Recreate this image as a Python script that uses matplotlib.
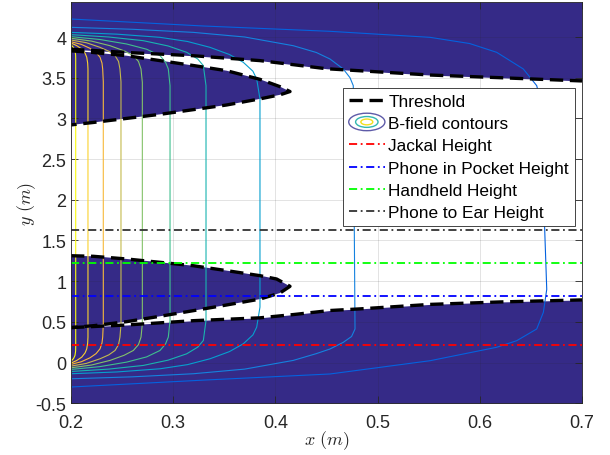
import matplotlib
matplotlib.use("Agg")
import matplotlib.pyplot as plt
from matplotlib.colors import LinearSegmentedColormap
from matplotlib.legend_handler import HandlerBase
from matplotlib.lines import Line2D
from matplotlib.patches import Ellipse

plt.rcParams["font.family"] = ["Liberation Sans", "DejaVu Sans"]
plt.rcParams["mathtext.fontset"] = "cm"

# threshold boundary: upper outer edge (field above it exceeds the limit)
thr_top_x = [0.2, 0.2545, 0.3197, 0.3849, 0.4502, 0.5513, 0.6198, 0.7]
thr_top_y = [3.85, 3.81, 3.77, 3.71, 3.61, 3.533, 3.50, 3.46]

# upper lobe, traced from the left edge round the tip and back
lobe_top_x = [0.2, 0.2218, 0.2545, 0.2871, 0.3197, 0.3523, 0.3849, 0.4045, 0.4143,
              0.4045, 0.3849, 0.3523, 0.2871, 0.2218, 0.2]
lobe_top_y = [3.83, 3.81, 3.77, 3.71, 3.65, 3.586, 3.48, 3.39, 3.33,
              3.29, 3.24, 3.165, 3.05, 2.95, 2.92]

# lower lobe
lobe_bot_x = [0.2, 0.2218, 0.2545, 0.2871, 0.3197, 0.3523, 0.3849, 0.4012, 0.4143,
              0.4045, 0.3849, 0.3523, 0.3197, 0.2871, 0.2545, 0.2218, 0.2]
lobe_bot_y = [1.313, 1.306, 1.273, 1.232, 1.19, 1.13, 1.068, 1.027, 0.937,
              0.855, 0.78, 0.708, 0.638, 0.569, 0.503, 0.453, 0.43]

# lower outer edge
thr_bot_x = [0.2, 0.2545, 0.3197, 0.3849, 0.4175, 0.4534, 0.4828, 0.5513, 0.6198, 0.7]
thr_bot_y = [0.43, 0.462, 0.515, 0.55, 0.59, 0.64, 0.66, 0.715, 0.745, 0.77]

# B-field contour lines, each running from the upper conductor round to the lower one
contour_x = [
    [0.2, 0.2025, 0.2039, 0.2045, 0.2046, 0.2046, 0.2045, 0.2039, 0.2025, 0.2],
    [0.2, 0.2055, 0.2105, 0.2138, 0.2154, 0.2163, 0.2166,
     0.2166, 0.2163, 0.2154, 0.2138, 0.2105, 0.2055, 0.2],
    [0.2, 0.21, 0.2186, 0.2245, 0.2284, 0.2303, 0.2310, 0.2316,
     0.2316, 0.2310, 0.2303, 0.2284, 0.2245, 0.2186, 0.21, 0.2],
    [0.2, 0.215, 0.2284, 0.237, 0.2431, 0.2465, 0.2479, 0.2489,
     0.2489, 0.2479, 0.2465, 0.2431, 0.237, 0.2284, 0.215, 0.2],
    [0.2, 0.22, 0.2382, 0.252, 0.2610, 0.2660, 0.2685, 0.2698,
     0.2698, 0.2685, 0.2660, 0.2610, 0.252, 0.2382, 0.22, 0.2],
    [0.2, 0.228, 0.2545, 0.274, 0.2871, 0.2925, 0.2952, 0.2969,
     0.2969, 0.2952, 0.2925, 0.2871, 0.274, 0.2545, 0.228, 0.2],
    [0.2, 0.237, 0.2707, 0.295, 0.3132, 0.3240, 0.3295, 0.3321,
     0.3321, 0.3295, 0.3240, 0.3132, 0.295, 0.2707, 0.237, 0.2],
    [0.2, 0.245, 0.2871, 0.3140, 0.3360, 0.3550, 0.3686, 0.3780, 0.3817, 0.3849,
     0.3849, 0.3817, 0.3780, 0.3686, 0.3550, 0.3360, 0.3140, 0.2871, 0.245, 0.2],
    [0.2, 0.26, 0.3197, 0.37, 0.4175, 0.4400, 0.4534, 0.4664, 0.4730, 0.4762, 0.4770,
     0.4779, 0.4745, 0.4664, 0.4534, 0.4400, 0.4175, 0.37, 0.3197, 0.26, 0.2],
    [0.2, 0.33, 0.4534, 0.5513, 0.59, 0.6165, 0.6426, 0.6557, 0.6589, 0.6625, 0.6655,
     0.6622, 0.6557, 0.6361, 0.6165, 0.5513, 0.4534, 0.33, 0.2],
]
contour_y = [
    [3.905, 3.87, 3.832, 3.78, 3.73, 0.19, 0.14, 0.088, 0.05, 0.015],
    [3.926, 3.895, 3.853, 3.80, 3.751, 3.68, 3.607,
     0.313, 0.24, 0.169, 0.12, 0.067, 0.025, -0.006],
    [3.942, 3.91, 3.861, 3.81, 3.751, 3.68, 3.607, 3.45,
     0.47, 0.313, 0.24, 0.169, 0.11, 0.059, 0.01, -0.022],
    [3.963, 3.93, 3.873, 3.825, 3.771, 3.70, 3.607, 3.45,
     0.47, 0.313, 0.22, 0.149, 0.095, 0.047, -0.01, -0.043],
    [3.984, 3.95, 3.893, 3.83, 3.771, 3.70, 3.607, 3.443,
     0.477, 0.313, 0.22, 0.149, 0.09, 0.027, -0.03, -0.064],
    [4.004, 3.97, 3.914, 3.85, 3.771, 3.69, 3.607, 3.402,
     0.518, 0.313, 0.23, 0.149, 0.07, 0.006, -0.05, -0.084],
    [4.029, 4.00, 3.955, 3.89, 3.812, 3.73, 3.648, 3.402,
     0.518, 0.272, 0.19, 0.108, 0.03, -0.035, -0.08, -0.109],
    [4.057, 4.035, 3.996, 3.945, 3.873, 3.785, 3.689, 3.58, 3.484, 3.238,
     0.682, 0.436, 0.34, 0.231, 0.135, 0.047, -0.025, -0.076, -0.115, -0.137],
    [4.119, 4.095, 4.057, 4.0, 3.893, 3.81, 3.730, 3.607, 3.50, 3.402, 2.0,
     0.413, 0.32, 0.249, 0.167, 0.11, 0.027, -0.08, -0.137, -0.175, -0.199],
    [4.221, 4.135, 4.07, 3.996, 3.92, 3.812, 3.607, 3.402, 3.238, 2.0, 0.9,
     0.618, 0.413, 0.269, 0.188, 0.023, -0.140, -0.215, -0.30],
]
contour_level = [1.0, 0.9, 0.8, 0.7, 0.6, 0.5, 0.4, 0.3, 0.2, 0.1]

heights = [0.22, 0.82, 1.22, 1.63]
height_labels = ["Jackal Height", "Phone in Pocket Height", "Handheld Height",
                 "Phone to Ear Height"]
height_colors = ["#FF0000", "#0000FF", "#00FF00", "#333333"]

NAVY = "#352A87"
AX_COL = "#262626"
parula = LinearSegmentedColormap.from_list("parula", [
    (0.00, (0.2081, 0.1663, 0.5292)),
    (0.10, (0.0117, 0.3875, 0.8820)),
    (0.20, (0.0780, 0.5103, 0.8740)),
    (0.30, (0.0232, 0.6253, 0.8111)),
    (0.40, (0.0942, 0.7061, 0.6910)),
    (0.50, (0.2400, 0.7500, 0.5600)),
    (0.60, (0.5150, 0.7590, 0.4120)),
    (0.70, (0.7690, 0.7290, 0.3000)),
    (0.80, (0.9680, 0.7270, 0.2330)),
    (0.90, (0.9860, 0.8220, 0.1820)),
    (1.00, (0.9763, 0.9831, 0.0538)),
])


class ContourIcon(HandlerBase):
    # three nested ellipses as the legend key for the contour lines
    def create_artists(self, legend, orig_handle, xdescent, ydescent,
                       width, height, fontsize, trans):
        cx = width / 2 - xdescent
        cy = height / 2 - ydescent
        out = []
        for s, col in zip((1.0, 0.62, 0.33), ("#5E5BA8", "#33B8B0", "#F2E01C")):
            out.append(Ellipse((cx, cy), width * s, height * 1.45 * s, fill=False,
                               edgecolor=col, lw=1.0, transform=trans))
        return out


fig = plt.figure(figsize=(6.1, 4.56), dpi=100)
ax = fig.add_axes([0.1164, 0.1134, 0.8377, 0.88])

ytop, ybot = 4.43, -0.5

# regions over the threshold
ax.fill_between(thr_top_x, thr_top_y, ytop, color=NAVY, lw=0, zorder=1)
ax.fill(lobe_top_x, lobe_top_y, color=NAVY, lw=0, zorder=1)
ax.fill(lobe_bot_x, lobe_bot_y, color=NAVY, lw=0, zorder=1)
ax.fill_between(thr_bot_x, ybot, thr_bot_y, color=NAVY, lw=0, zorder=1)

for cx, cy, lv in zip(contour_x, contour_y, contour_level):
    ax.plot(cx, cy, color=parula(lv), lw=0.8, zorder=3)

thr_kw = dict(color="black", lw=2.4, dashes=(4, 2), zorder=4)
ax.plot(thr_top_x, thr_top_y, **thr_kw)
ax.plot(lobe_top_x, lobe_top_y, **thr_kw)
ax.plot(lobe_bot_x, lobe_bot_y, **thr_kw)
ax.plot(thr_bot_x, thr_bot_y, **thr_kw)

for h, col in zip(heights, height_colors):
    ax.axhline(h, color=col, lw=1.3, dashes=(4.5, 2, 1, 2), zorder=5)

ax.set_xlim(0.2, 0.7)
ax.set_ylim(ybot, ytop)
ax.set_xticks([0.2, 0.3, 0.4, 0.5, 0.6, 0.7])
ax.set_yticks([-0.5, 0, 0.5, 1, 1.5, 2, 2.5, 3, 3.5, 4])
ax.set_yticklabels(["-0.5", "0", "0.5", "1", "1.5", "2", "2.5", "3", "3.5", "4"])
ax.grid(True, color=AX_COL, alpha=0.15, lw=0.6, zorder=2)
ax.set_axisbelow(False)
ax.tick_params(direction="in", length=5, width=0.6, colors=AX_COL, labelsize=13,
               top=True, right=True, labelcolor=AX_COL)
ax.tick_params(axis="x", pad=8)
for sp in ax.spines.values():
    sp.set_color(AX_COL)
    sp.set_linewidth(0.6)
    sp.set_zorder(6)

ax.set_xlabel(r"$x\ (m)$", fontsize=13, color=AX_COL, labelpad=-2)
ax.set_ylabel(r"$y\ (m)$", fontsize=13, color=AX_COL, labelpad=-2)

handles = [Line2D([], [], color="black", lw=2.4, dashes=(4, 2)),
           Ellipse((0, 0), 1, 1)]
handles += [Line2D([], [], color=c, lw=1.3, dashes=(4.5, 2, 1, 2)) for c in height_colors]
labels = ["Threshold", "B-field contours"] + height_labels
leg = ax.legend(handles, labels, loc="upper left", bbox_to_anchor=(0.5317, 0.7867),
                borderaxespad=0, fontsize=12.4, handlelength=2.1, handletextpad=0.2,
                labelspacing=0.42, borderpad=0.35, fancybox=False, framealpha=1,
                edgecolor=AX_COL, handler_map={Ellipse: ContourIcon()})
leg.get_frame().set_linewidth(0.6)
leg.set_zorder(10)

fig.savefig("out.png", dpi=100, facecolor="white")
